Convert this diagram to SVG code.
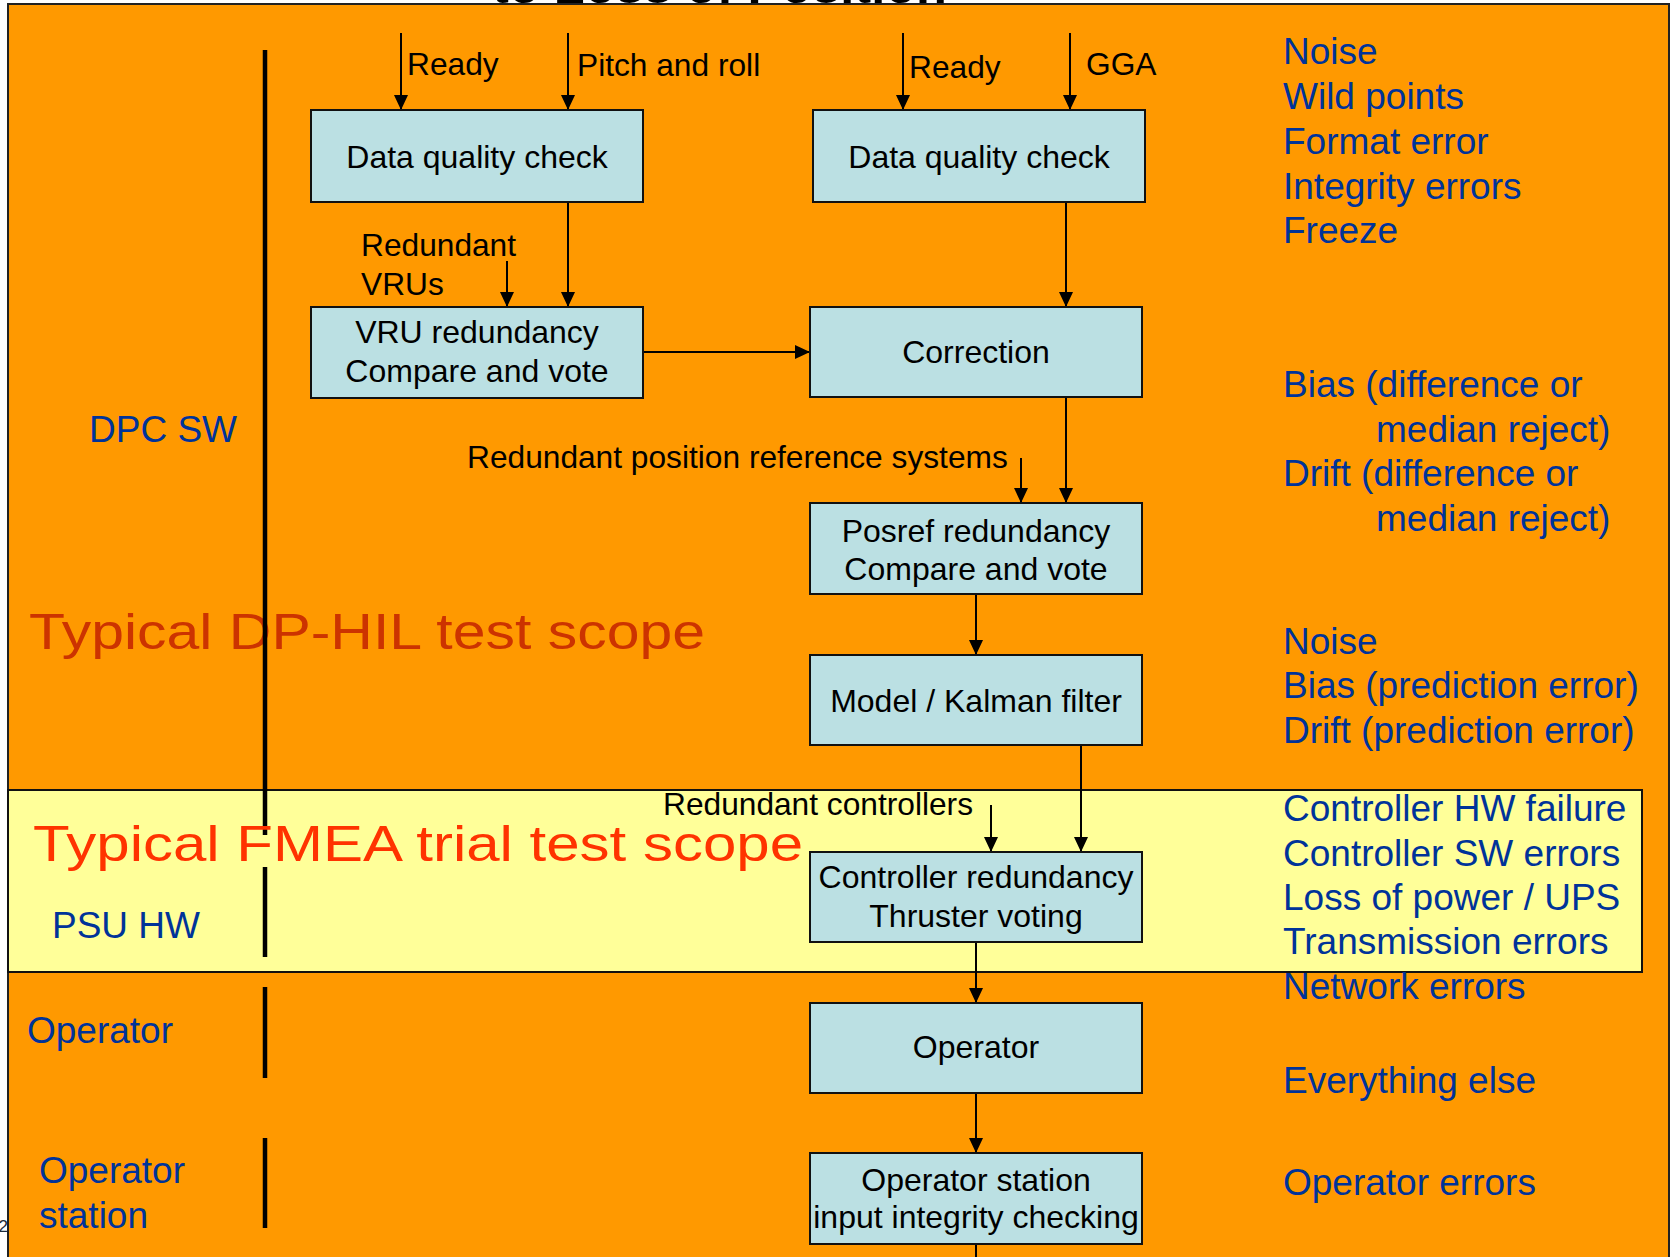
<svg xmlns="http://www.w3.org/2000/svg" width="1675" height="1257" viewBox="0 0 1675 1257">
<defs>
<marker id="arr" viewBox="0 0 15 14" refX="15" refY="7" markerWidth="15" markerHeight="14" markerUnits="userSpaceOnUse" orient="auto">
<path d="M0,0 L15,7 L0,14 z" fill="#000"/>
</marker>
<style>
.box{fill:#bbe0e3;stroke:#111;stroke-width:2}
.bt{font-family:"Liberation Sans",Arial,sans-serif;font-size:32px;fill:#000;text-anchor:middle}
.lbl{font-family:"Liberation Sans",Arial,sans-serif;font-size:31.7px;fill:#000}
.blue{font-family:"Liberation Sans",Arial,sans-serif;font-size:37px;fill:#003399}
.red{font-family:"Liberation Sans",Arial,sans-serif;font-size:49.5px}
.con{stroke:#000;stroke-width:2;fill:none}
.arw{marker-end:url(#arr)}
.bar{stroke:#000;stroke-width:4.5}
</style>
</defs>
<rect width="1675" height="1257" fill="#fff"/>
<text x="8" y="1232" font-family="Liberation Sans,Arial,sans-serif" font-size="17" fill="#1a2a3a" text-anchor="end">2</text>
<text x="492" y="2.5" font-family="Liberation Sans,Arial,sans-serif" font-size="50" font-weight="bold" fill="#000" textLength="455" lengthAdjust="spacingAndGlyphs">to Loss of Position</text>
<rect id="background" x="8" y="4" width="1661" height="1300" fill="#ff9900" stroke="#222" stroke-width="2"/>
<rect id="fmea-band" x="8" y="790" width="1634" height="182" fill="#ffff99" stroke="#111" stroke-width="2"/>

<text class="red" x="29" y="649" fill="#cc3300" textLength="676" lengthAdjust="spacingAndGlyphs">Typical DP-HIL test scope</text>

<g id="left-bars">
<line class="bar" x1="265" y1="50" x2="265" y2="835"/>
<line class="bar" x1="265" y1="867" x2="265" y2="957"/>
<line class="bar" x1="265" y1="987" x2="265" y2="1078"/>
<line class="bar" x1="265" y1="1138" x2="265" y2="1228"/>
</g>

<text class="red" x="33" y="861" fill="#ff3300" textLength="770" lengthAdjust="spacingAndGlyphs">Typical FMEA trial test scope</text>

<g id="layer-labels">
<text class="blue" x="89" y="442">DPC SW</text>
<text class="blue" x="52" y="938">PSU HW</text>
<text class="blue" x="27" y="1043">Operator</text>
<text class="blue" x="39" y="1183">Operator</text>
<text class="blue" x="39" y="1228">station</text>
</g>

<g id="failure-modes">
<text class="blue" x="1283" y="64">Noise</text>
<text class="blue" x="1283" y="109">Wild points</text>
<text class="blue" x="1283" y="154">Format error</text>
<text class="blue" x="1283" y="199">Integrity errors</text>
<text class="blue" x="1283" y="243">Freeze</text>
<text class="blue" x="1283" y="397">Bias (difference or</text>
<text class="blue" x="1376" y="442">median reject)</text>
<text class="blue" x="1283" y="486">Drift (difference or</text>
<text class="blue" x="1376" y="531">median reject)</text>
<text class="blue" x="1283" y="654">Noise</text>
<text class="blue" x="1283" y="698">Bias (prediction error)</text>
<text class="blue" x="1283" y="743">Drift (prediction error)</text>
<text class="blue" x="1283" y="821">Controller HW failure</text>
<text class="blue" x="1283" y="866">Controller SW errors</text>
<text class="blue" x="1283" y="910">Loss of power / UPS</text>
<text class="blue" x="1283" y="954">Transmission errors</text>
<text class="blue" x="1283" y="999">Network errors</text>
<text class="blue" x="1283" y="1093">Everything else</text>
<text class="blue" x="1283" y="1195">Operator errors</text>
</g>

<g id="connectors">
<line class="con arw" x1="401" y1="33" x2="401" y2="110"/>
<line class="con arw" x1="568" y1="33" x2="568" y2="110"/>
<line class="con arw" x1="568" y1="202" x2="568" y2="307"/>
<line class="con arw" x1="507" y1="261" x2="507" y2="307"/>
<line class="con arw" x1="643" y1="352" x2="810" y2="352"/>
<line class="con arw" x1="903" y1="33" x2="903" y2="110"/>
<line class="con arw" x1="1070" y1="33" x2="1070" y2="110"/>
<line class="con arw" x1="1066" y1="202" x2="1066" y2="307"/>
<line class="con arw" x1="1066" y1="397" x2="1066" y2="503"/>
<line class="con arw" x1="1021" y1="458" x2="1021" y2="503"/>
<line class="con arw" x1="976" y1="594" x2="976" y2="655"/>
<line class="con arw" x1="1081" y1="745" x2="1081" y2="852"/>
<line class="con arw" x1="991" y1="805" x2="991" y2="852"/>
<line class="con arw" x1="976" y1="942" x2="976" y2="1003"/>
<line class="con arw" x1="976" y1="1093" x2="976" y2="1153"/>
<line class="con" x1="976" y1="1244" x2="976" y2="1257"/>
</g>

<g id="connector-labels">
<text class="lbl" x="407" y="75">Ready</text>
<text class="lbl" x="577" y="76">Pitch and roll</text>
<text class="lbl" x="909" y="78">Ready</text>
<text class="lbl" x="1086" y="75">GGA</text>
<text class="lbl" x="361" y="256">Redundant</text>
<text class="lbl" x="361" y="295">VRUs</text>
<text class="lbl" x="467" y="468">Redundant position reference systems</text>
<text class="lbl" x="663" y="815">Redundant controllers</text>
</g>

<g id="dq-vru">
<rect class="box" x="311" y="110" width="332" height="92"/>
<text class="bt" x="477" y="168">Data quality check</text>
</g>
<g id="dq-gps">
<rect class="box" x="813" y="110" width="332" height="92"/>
<text class="bt" x="979" y="168">Data quality check</text>
</g>
<g id="vru-redundancy">
<rect class="box" x="311" y="307" width="332" height="91"/>
<text class="bt" x="477" y="343">VRU redundancy</text>
<text class="bt" x="477" y="382">Compare and vote</text>
</g>
<g id="correction">
<rect class="box" x="810" y="307" width="332" height="90"/>
<text class="bt" x="976" y="363">Correction</text>
</g>
<g id="posref-redundancy">
<rect class="box" x="810" y="503" width="332" height="91"/>
<text class="bt" x="976" y="542">Posref redundancy</text>
<text class="bt" x="976" y="580">Compare and vote</text>
</g>
<g id="kalman">
<rect class="box" x="810" y="655" width="332" height="90"/>
<text class="bt" x="976" y="712">Model / Kalman filter</text>
</g>
<g id="controller-redundancy">
<rect class="box" x="810" y="852" width="332" height="90"/>
<text class="bt" x="976" y="888">Controller redundancy</text>
<text class="bt" x="976" y="927">Thruster voting</text>
</g>
<g id="operator">
<rect class="box" x="810" y="1003" width="332" height="90"/>
<text class="bt" x="976" y="1058">Operator</text>
</g>
<g id="operator-station">
<rect class="box" x="810" y="1153" width="332" height="91"/>
<text class="bt" x="976" y="1191">Operator station</text>
<text class="bt" x="976" y="1228">input integrity checking</text>
</g>
</svg>
